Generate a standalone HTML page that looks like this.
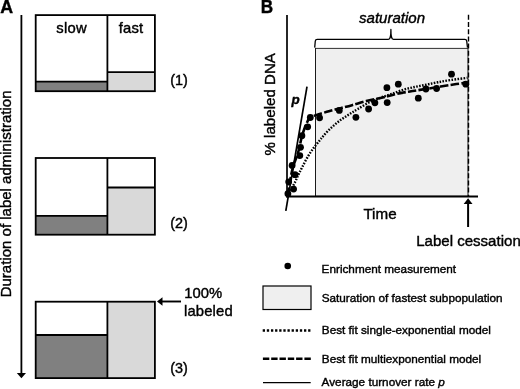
<!DOCTYPE html>
<html><head><meta charset="utf-8">
<style>
html,body{margin:0;padding:0;background:#fff;}
body{width:520px;height:389px;overflow:hidden;position:relative;font-family:"Liberation Sans",sans-serif;}
svg{position:absolute;left:0;top:0;}
text{font-family:"Liberation Sans",sans-serif;fill:#000;stroke:#000;stroke-width:0.4px;}
svg{will-change:transform;}
</style></head><body>
<svg width="520" height="389" viewBox="0 0 520 389">
<rect width="520" height="389" fill="#fff"/>
<!-- Panel A -->
<text x="0.3" y="12.6" font-size="17.8" font-weight="bold">A</text>
<line x1="21.4" y1="15" x2="21.4" y2="374" stroke="#000" stroke-width="1.8"/>
<path d="M16.8 373 L21.4 378.3 L26 373 Z" fill="#000"/>
<text transform="translate(10.8,297.3) rotate(-90)" font-size="15">Duration of label administration</text>

<!-- box1 -->
<rect x="36" y="81.6" width="71.5" height="9.6" fill="#808080"/>
<rect x="107.5" y="72" width="47.4" height="19" fill="#d9d9d9"/>
<g fill="none" stroke="#000" stroke-width="1.8">
<rect x="35.7" y="15.1" width="119.2" height="76.1"/>
<line x1="107.4" y1="15.1" x2="107.4" y2="91.2"/>
<line x1="35.7" y1="81.7" x2="107.5" y2="81.7"/>
<line x1="107.5" y1="72.1" x2="154.9" y2="72.1"/>
</g>
<text x="56.3" y="32.9" font-size="14.8" letter-spacing="0.25">slow</text>
<text x="118.7" y="32.9" font-size="14.8" letter-spacing="0.2">fast</text>
<text x="170.3" y="85" font-size="14.4">(1)</text>

<!-- box2 -->
<rect x="36" y="215.9" width="71.5" height="18.8" fill="#808080"/>
<rect x="107.5" y="187.5" width="47.4" height="47.2" fill="#d9d9d9"/>
<g fill="none" stroke="#000" stroke-width="1.8">
<rect x="35.7" y="158" width="119.2" height="76.7"/>
<line x1="107.4" y1="158" x2="107.4" y2="234.7"/>
<line x1="35.7" y1="215.9" x2="107.5" y2="215.9"/>
<line x1="107.5" y1="187.5" x2="154.9" y2="187.5"/>
</g>
<text x="170.3" y="228.4" font-size="14.4">(2)</text>

<!-- box3 -->
<rect x="36" y="335" width="71.5" height="43" fill="#808080"/>
<rect x="107.5" y="302" width="47.4" height="76" fill="#d9d9d9"/>
<g fill="none" stroke="#000" stroke-width="1.8">
<rect x="35.7" y="301.7" width="119.2" height="76.4"/>
<line x1="107.4" y1="301.8" x2="107.4" y2="378.1"/>
<line x1="35.7" y1="335" x2="107.5" y2="335"/>
</g>
<text x="170.3" y="372.5" font-size="14.4">(3)</text>
<line x1="161" y1="301.5" x2="181" y2="301.5" stroke="#000" stroke-width="1.9"/>
<path d="M157 301.5 L162.5 297.3 L162.5 305.7 Z" fill="#000"/>
<text x="184.2" y="298.2" font-size="14.8">100%</text>
<text x="184" y="315.9" font-size="14.8" letter-spacing="0.15">labeled</text>

<!-- Panel B -->
<text transform="translate(260.8,12.6) scale(0.95,1.06)" font-size="18" font-weight="bold">B</text>
<text transform="translate(275.2,155.5) rotate(-90)" font-size="15.1">% labeled DNA</text>
<text x="359" y="23" font-size="15.05" font-style="italic">saturation</text>
<!-- grey rect -->
<rect x="315.5" y="48.3" width="152.5" height="148" fill="#efefef" stroke="#1a1a1a" stroke-width="1"/>
<!-- brace -->
<path d="M314.7 47.6 L315.3 41 Q315.5 39.3 317.3 39.3 L388.3 39.3 C390.4 39.3 390.9 37 390.9 29.4 C390.9 37 391.4 39.3 393.5 39.3 L464.8 39.3 Q466.5 39.3 466.7 41 L467.5 47.6" fill="#fff" stroke="#000" stroke-width="1.3" stroke-linejoin="round"/>
<!-- dashed vertical -->
<line x1="468.5" y1="14.8" x2="468.5" y2="196" stroke="#000" stroke-width="1.4" stroke-dasharray="5 2.2"/>
<!-- axes -->
<line x1="287" y1="15" x2="287" y2="197.4" stroke="#000" stroke-width="1.7"/>
<line x1="286.2" y1="196.5" x2="478" y2="196.5" stroke="#000" stroke-width="1.8"/>
<!-- p line -->
<line x1="307" y1="86.6" x2="285.8" y2="210.8" stroke="#000" stroke-width="1.7"/>
<text x="291.4" y="103.8" font-size="13.4" font-weight="bold" font-style="italic">p</text>
<!-- curves -->
<path d="M287.5 196.0 C288.1 194.9 289.8 191.8 291.0 189.5 C292.2 187.2 293.8 184.7 295.0 182.2 C296.2 179.7 297.3 177.0 298.5 174.5 C299.7 172.0 300.7 170.1 302.2 167.2 C303.7 164.3 305.5 160.5 307.4 157.3 C309.3 154.1 311.5 150.8 313.6 148.0 C315.7 145.2 318.2 142.3 319.8 140.3 C321.4 138.3 321.6 137.9 323.1 136.2 C324.6 134.5 327.0 131.8 328.9 129.9 C330.8 128.0 332.8 126.4 334.7 124.7 C336.6 123.0 338.6 121.4 340.5 120.0 C342.4 118.6 344.3 117.5 346.2 116.2 C348.1 115.0 350.1 113.7 352.0 112.5 C353.9 111.3 355.4 110.4 357.8 109.0 C360.2 107.6 363.5 105.5 366.2 104.0 C368.9 102.5 371.3 101.4 373.9 100.3 C376.5 99.2 378.7 98.4 381.6 97.3 C384.6 96.2 388.0 95.2 391.6 93.9 C395.2 92.7 399.2 91.0 403.1 89.8 C407.0 88.6 410.9 87.8 414.7 87.0 C418.5 86.2 422.3 85.5 426.2 84.7 C430.1 83.9 433.7 83.1 437.8 82.3 C441.9 81.5 446.1 80.8 451.0 80.0 C455.9 79.2 464.8 78.2 467.5 77.8" fill="none" stroke="#000" stroke-width="2.4" stroke-dasharray="1.6 1.4"/>
<path d="M287.6 196.0 C287.8 194.5 288.5 190.2 289.0 187.0 C289.5 183.8 290.1 180.3 290.8 177.0 C291.5 173.7 292.1 170.1 293.0 167.0 C293.9 163.9 295.0 161.3 296.0 158.5 C297.0 155.7 298.0 152.9 298.8 150.0 C299.6 147.1 300.2 143.6 300.8 141.0 C301.4 138.4 301.8 136.8 302.5 134.5 C303.2 132.2 304.2 129.2 305.0 127.0 C305.8 124.8 306.7 123.1 307.5 121.5 C308.3 119.9 308.7 118.5 309.6 117.6 C310.5 116.7 311.4 116.8 312.7 116.3 C314.0 115.8 314.6 115.6 317.3 114.8 C320.0 114.0 325.0 112.3 328.9 111.2 C332.8 110.1 336.6 109.2 340.5 108.2 C344.4 107.2 347.7 106.4 352.0 105.2 C356.3 104.0 361.3 102.3 366.2 101.1 C371.1 99.8 377.4 98.7 381.6 97.7 C385.8 96.7 388.0 96.1 391.6 95.2 C395.2 94.3 399.2 93.3 403.1 92.6 C407.0 91.8 409.9 91.5 414.7 90.7 C419.5 89.9 426.1 89.0 432.0 88.0 C437.9 87.0 444.1 85.9 450.0 85.0 C455.9 84.1 464.6 82.9 467.5 82.5" fill="none" stroke="#000" stroke-width="2.6" stroke-dasharray="8.5 2.3" stroke-linejoin="round"/>
<g fill="#000">
<circle cx="451.5" cy="74.2" r="3.4"/>
<circle cx="465.8" cy="84.2" r="3.4"/>
<circle cx="436.6" cy="88.5" r="3.4"/>
<circle cx="425.9" cy="89" r="3.4"/>
<circle cx="418.3" cy="98.2" r="3.4"/>
<circle cx="398.3" cy="84.2" r="3.4"/>
<circle cx="386.9" cy="87.7" r="3.4"/>
<circle cx="387.2" cy="102.6" r="3.4"/>
<circle cx="374.9" cy="102.8" r="3.4"/>
<circle cx="368.6" cy="109" r="3.4"/>
<circle cx="355.9" cy="117.3" r="3.4"/>
<circle cx="339.3" cy="110.4" r="3.4"/>
<circle cx="319.6" cy="117.8" r="3.4"/>
<circle cx="310.3" cy="117.5" r="3.4"/>
<circle cx="307.7" cy="126.8" r="3.4"/>
<circle cx="301.9" cy="135.7" r="3.4"/>
<circle cx="300.5" cy="147.3" r="3.4"/>
<circle cx="299.8" cy="155.6" r="3.4"/>
<circle cx="292.1" cy="165.4" r="3.4"/>
<circle cx="295" cy="174.7" r="3.4"/>
<circle cx="288.7" cy="181.8" r="3.4"/>
<circle cx="293.6" cy="189.1" r="3.4"/>
<circle cx="287.9" cy="193.7" r="3.4"/>
</g>
<text x="363.4" y="218.5" font-size="15.2">Time</text>
<!-- arrow -->
<line x1="468.1" y1="203" x2="468.1" y2="227" stroke="#000" stroke-width="2"/>
<path d="M468.1 198.3 L463.7 204 L472.5 204 Z" fill="#000"/>
<text x="416.2" y="245.6" font-size="15.05">Label cessation</text>

<!-- legend -->
<circle cx="287.75" cy="266" r="3.3" fill="#000"/>
<rect x="263" y="286" width="48" height="23.5" fill="#efefef" stroke="#000" stroke-width="1.2"/>
<line x1="262.7" y1="330.4" x2="311" y2="330.4" stroke="#000" stroke-width="2.5" stroke-dasharray="2.3 1.83"/>
<line x1="262.9" y1="358.7" x2="311" y2="358.7" stroke="#000" stroke-width="2.4" stroke-dasharray="6.4 1.9"/>
<line x1="263" y1="382.6" x2="310.7" y2="382.6" stroke="#000" stroke-width="1.3"/>
<g font-size="11.75">
<text x="321.6" y="273">Enrichment measurement</text>
<text x="321.7" y="302">Saturation of fastest subpopulation</text>
<text x="321.8" y="333.8">Best fit single-exponential model</text>
<text x="321.8" y="362.5">Best fit multiexponential model</text>
<text x="321.6" y="386.3">Average turnover rate <tspan font-style="italic">p</tspan></text>
</g>
</svg>
</body></html>
